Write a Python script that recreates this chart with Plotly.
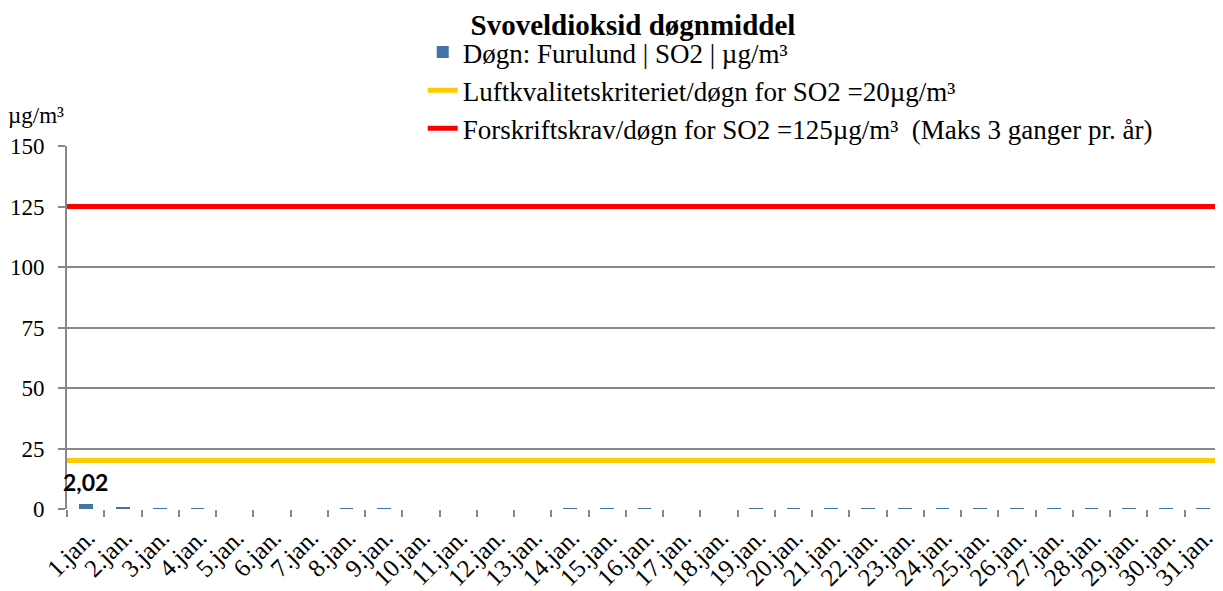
import plotly.graph_objects as go

# Data
dager = list(range(1, 32))
dag_etiketter = [f"{d}.jan." for d in dager]
so2_dogn = [2.02, 1.0, 0.2, 0.2, 0, 0, 0, 0.2, 0.2, 0, 0, 0, 0, 0.2, 0.2, 0.2,
            0, 0, 0.2, 0.2, 0.2, 0.2, 0.2, 0.2, 0.2, 0.2, 0.2, 0.2, 0.2, 0.2, 0.2]
luftkvalitet_grense = 20
forskrift_grense = 125
y_ticks = [0, 25, 50, 75, 100, 125, 150]

serif = "Liberation Serif, Times New Roman, serif"

fig = go.Figure()

# Døgnverdier
fig.add_trace(go.Bar(
    x=dager, y=so2_dogn, name="Døgn: Furulund | SO2 | µg/m³",
    marker=dict(color="#4672a8", line_width=0), width=0.37,
    legendgroup="a",
))

# Grenseverdier (strekker seg over hele plottet)
x_kant = [dager[0] - 0.5, dager[-1] + 0.5]
fig.add_trace(go.Scatter(
    x=x_kant, y=[luftkvalitet_grense] * 2, mode="lines",
    name="Luftkvalitetskriteriet/døgn for SO2 =20µg/m³",
    line=dict(color="#ffcc00", width=5), legendgroup="b",
))
fig.add_trace(go.Scatter(
    x=x_kant, y=[forskrift_grense] * 2, mode="lines",
    name="Forskriftskrav/døgn for SO2 =125µg/m³  (Maks 3 ganger pr. år)",
    line=dict(color="#ff0000", width=5), legendgroup="c",
))

# Verdietikett for maks
i_maks = so2_dogn.index(max(so2_dogn))
fig.add_annotation(
    x=dager[i_maks], y=so2_dogn[i_maks], yanchor="bottom", yshift=6,
    text=f"<b>{so2_dogn[i_maks]:.2f}</b>".replace(".", ","), showarrow=False,
    font=dict(family="Lato, Liberation Sans, sans-serif", size=23, color="black"),
)

# Enhet på y-aksen
fig.add_annotation(
    xref="paper", yref="paper", x=0, y=1, xanchor="right", yanchor="bottom",
    xshift=-1, yshift=16, text="µg/m³", showarrow=False,
    font=dict(family=serif, size=23, color="black"),
)

fig.update_layout(
    width=1223, height=591,
    margin=dict(l=59, r=9, t=138, b=90, autoexpand=False),
    plot_bgcolor="white", paper_bgcolor="white",
    font=dict(family=serif, color="black"),
    title=dict(text="<b>Svoveldioksid døgnmiddel</b>", x=0.511, xanchor="center",
               y=0.972, yanchor="middle", font=dict(family=serif, size=29)),
    legend=dict(x=0.308, y=1.325, xanchor="left", yanchor="top",
                font=dict(family=serif, size=27), tracegroupgap=0,
                traceorder="grouped", bgcolor="rgba(0,0,0,0)"),
    bargap=0,
)

fig.update_xaxes(
    range=x_kant, tickmode="array", tickvals=dager, ticktext=dag_etiketter,
    tickangle=-45, ticks="", tickfont=dict(size=25),
    ticklabelstandoff=8, ticklabelshift=2, automargin=False,
    showgrid=False, zeroline=False, showline=False,
    minor=dict(tickmode="array", tickvals=[d + 0.5 for d in [0] + dager],
               ticks="outside", ticklen=7, tickcolor="#888888", tickwidth=2),
)
fig.update_yaxes(
    range=[0, 150], tickmode="array", tickvals=y_ticks,
    ticks="outside", ticklen=7, tickcolor="#888888", tickwidth=2,
    tickfont=dict(size=23), ticklabelstandoff=9, automargin=False,
    showgrid=True, gridcolor="#888888", gridwidth=2,
    zeroline=False, showline=True, linecolor="#888888", linewidth=2,
)

fig.write_html("out.html")
